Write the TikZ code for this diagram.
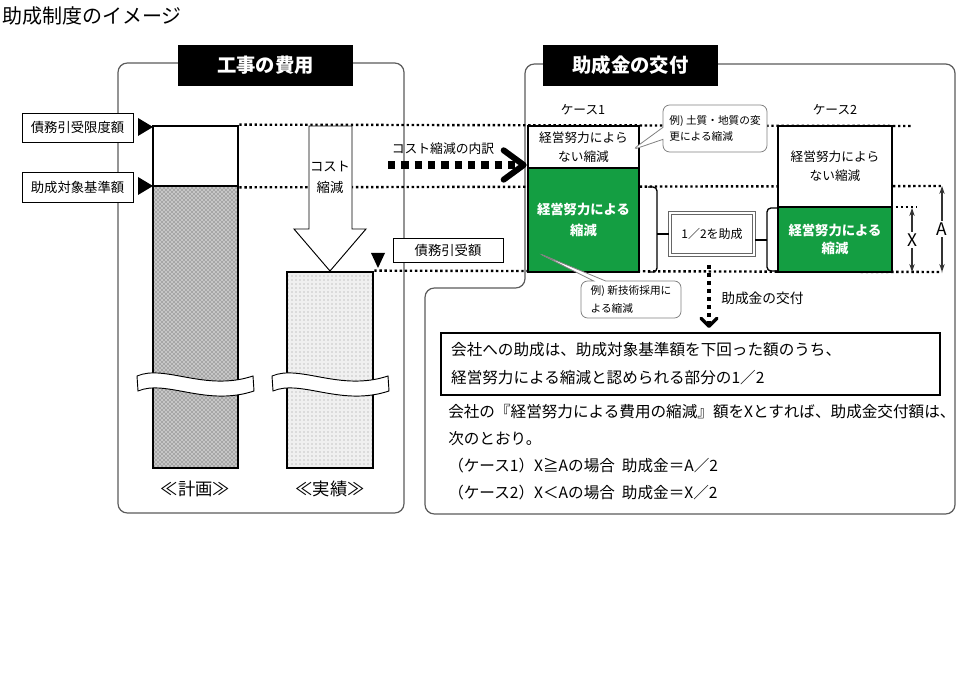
\documentclass[tikz,border=0pt]{standalone}
\usepackage{fontspec}
\newfontfamily\jp{Noto Sans CJK JP}
\usepackage{xcolor}
\usetikzlibrary{arrows.meta,patterns,shapes.callouts,positioning}
\definecolor{effgreen}{RGB}{20,158,66}
\definecolor{framegray}{RGB}{90,90,90}

\begin{document}
\begin{tikzpicture}[x=0.75pt, y=-0.75pt,
        every node/.style={font=\jp, inner sep=0pt},
        lbl/.style={draw, fill=white, line width=0.6pt, font=\jp\fontsize{10}{11}\selectfont},
        header/.style={fill=black, text=white, minimum width=131pt, minimum height=31pt,
                font=\jp\bfseries\fontsize{14.5}{16}\selectfont},
        panel/.style={draw=framegray, line width=0.9pt, rounded corners=7pt},
        bar/.style={draw, line width=2pt},
        wbox/.style={draw, fill=white, line width=2pt, align=center,
                font=\jp\fontsize{9.5}{14}\selectfont},
        gbox/.style={draw, fill=effgreen, text=white, line width=2pt, align=center,
                font=\jp\bfseries\fontsize{10}{16}\selectfont},
        dotline/.style={line width=1.8pt, dash pattern=on 1.8pt off 2pt},
        note/.style={rectangle callout, draw=gray, fill=white, rounded corners=5pt,
                line width=0.6pt, align=left, callout pointer width=9pt},
        brace/.style={line width=1pt, rounded corners=3pt},
        dimarrow/.style={{Stealth[length=6pt,width=4pt]}-{Stealth[length=6pt,width=4pt]},
                line width=0.8pt, draw=black!80},
        bigdots/.style={line width=5.5pt, dash pattern=on 5.5pt off 4.5pt,
                -{Straight Barb[length=15pt,width=22pt,line width=4.5pt,round]}},
        paydots/.style={line width=3pt, dash pattern=on 3pt off 3pt,
                -{Straight Barb[length=6pt,width=12pt,line width=2.5pt,round]}}
        ]
        \useasboundingbox (0,0) rectangle (960,680);

        % ---------------- Title ----------------
        \node[anchor=west, font=\jp\fontsize{15}{17}\selectfont] (title) at (2,16) {助成制度のイメージ};

        % ---------------- Panels ----------------
        \draw[panel] (118,63) rectangle (404,513);
        \draw[panel] (740,64) -- (955,64) -- (955,514) -- (425,514) -- (425,288)
                -- (525,288) -- (525,64) -- cycle;
        \node[header] (costhead) at (265.5,65.5) {工事の費用};
        \node[header] (granthead) at (630.5,65.5) {助成金の交付};

        % ---------------- Bars (left) ----------------
        \node[bar, fill=white, minimum width=63.75pt, minimum height=45pt] (plantop) at (195.5,156) {};
        \node[bar, preaction={fill=gray!45}, pattern=crosshatch dots, pattern color=black!75,
                minimum width=63.75pt, minimum height=211.5pt] (planlow) at (195.5,327) {};
        \node[bar, preaction={fill=gray!12}, pattern=dots, pattern color=gray!80,
                minimum width=64.5pt, minimum height=147pt] (actual) at (330,370) {};

        % wavy breaks
        \foreach \cx in {195,330}{
                \draw[fill=white, line width=0.7pt] (\cx-58,376) .. controls (\cx-30,364) and (\cx+10,392) .. (\cx+58,376)
                        -- (\cx+59,391) .. controls (\cx+11,407) and (\cx-29,379) .. (\cx-57,391) -- cycle;
        }

        \node[font=\jp\fontsize{13}{15}\selectfont] (planname) at (195.5,489) {≪計画≫};
        \node[font=\jp\fontsize{13}{15}\selectfont] (actname) at (330,489) {≪実績≫};

        % ---------------- Left labels ----------------
        \node[lbl, minimum width=83.25pt, minimum height=21.75pt] (limit) at (77.5,127.5) {債務引受限度額};
        \node[lbl, minimum width=83.25pt, minimum height=22.5pt] (base) at (77.5,187) {助成対象基準額};
        \fill (138,118) -- (153,127) -- (138,136) -- cycle;
        \fill (138,177) -- (153,186) -- (138,195) -- cycle;

        % ---------------- Case boxes ----------------
        \coordinate (topend) at (912,126);
        \coordinate (aend) at (942,186);
        \coordinate (bend) at (942,272);
        \coordinate (xend) at (917,207);
        \coordinate (xtop) at (912,208);
        \coordinate (xbot) at (912,272);

        \draw[dotline] (plantop.north east) -- (topend);
        \draw[dotline] (plantop.south east) -- (aend);
        \draw[dotline] (actual.north east) -- (bend);
        \draw[dotline] (835,207) -- (xend);

        % cost reduction arrow
        \draw[fill=white, line width=0.7pt] (309,126) -- (352,126) -- (352,229) -- (366,229)
                -- (330,271) -- (294,229) -- (309,229) -- cycle;
        \node[align=center, font=\jp\fontsize{10}{15.75}\selectfont] (cutlbl) at (330,177) {コスト\\縮減};

        \node[lbl, minimum width=82.5pt, minimum height=18pt] (paid) at (448,250) {債務引受額};
        \fill (371,253) -- (385,253) -- (378,268) -- cycle;

        \node[font=\jp\fontsize{9.5}{11}\selectfont] (case1) at (583,110) {ケース1};
        \node[font=\jp\fontsize{9.5}{11}\selectfont] (case2) at (835,110) {ケース2};

        \node[wbox, minimum width=83.25pt, minimum height=31.5pt] (c1top) at (583.5,147) {経営努力によら\\ない縮減};
        \node[gbox, minimum width=83.25pt, minimum height=78pt] (c1green) at (583.5,220) {経営努力による\\縮減};
        \node[wbox, minimum width=85.5pt, minimum height=60.75pt] (c2top) at (835,166.5) {経営努力によら\\ない縮減};
        \node[gbox, font=\jp\bfseries\fontsize{10}{14}\selectfont,
                minimum width=85.5pt, minimum height=48.75pt] (c2green) at (835,239.5) {経営努力による\\縮減};

        % callouts
        \node[note, minimum width=78pt, minimum height=35.25pt, font=\jp\fontsize{8}{12}\selectfont,
                callout absolute pointer={(632,150)}] (soilnote) at (715,128.5) {例) 土質・地質の変\\更による縮減};
        \node[note, minimum width=75pt, minimum height=27.75pt, font=\jp\fontsize{8}{13.5}\selectfont,
                callout absolute pointer={(538,253)}] (technote) at (631,299.5) {例) 新技術採用に\\よる縮減};

        % breakdown arrow
        \coordinate (splitsrc) at (388,165);
        \node[font=\jp\fontsize{9.6}{11}\selectfont] (splitlbl) at (443,149) {コスト縮減の内訳};
        \draw[bigdots] (splitsrc) -- (c1top.west |- splitsrc);

        % half grant
        \node[draw=gray!80!black, double=white, double distance=1.2pt, line width=0.8pt, fill=white,
                minimum width=63pt, minimum height=31.5pt, font=\jp\fontsize{9}{10}\selectfont] (half) at (712,234) {1／2を助成};
        \coordinate (b1mid) at (657,234);
        \coordinate (b2mid) at (767,240);
        \draw[brace] (648,187) -- (657,187) -- (657,272) -- (648,272);
        \draw[brace] (777,208) -- (767,208) -- (767,271) -- (777,271);
        \draw[line width=1pt] (b1mid) -- (half.west);
        \draw[line width=1pt] (b2mid) -- (half.east |- b2mid);

        % A and X
        \draw[dimarrow] (aend) -- (bend) node[midway, fill=white, inner sep=1.5pt, font=\jp\fontsize{13}{15}\selectfont] (alabel) {A};
        \draw[dimarrow] (xtop) -- (xbot) node[midway, fill=white, inner sep=1.5pt, font=\jp\fontsize{13}{15}\selectfont] (xlabel) {X};

        % grant payment
        \coordinate (paytop) at (709,265);
        \coordinate (paytip) at (709,328);
        \draw[paydots] (paytop) -- (paytip);
        \node[anchor=west, font=\jp\fontsize{10.3}{12}\selectfont] (paylbl) at (721,298) {助成金の交付};

        % ---------------- Statement ----------------
        \node[draw, line width=1.5pt, minimum width=374pt, minimum height=46.5pt, text width=359pt,
                align=left, font=\jp\fontsize{11.7}{21}\selectfont] (stmt) at (690.5,364)
                {会社への助成は、助成対象基準額を下回った額のうち、\\経営努力による縮減と認められる部分の1／2};
        \node[anchor=north west, align=left, font=\jp\fontsize{11.7}{20.2}\selectfont] (rule) at (448,404)
                {会社の『経営努力による費用の縮減』額をXとすれば、助成金交付額は、\\
                 次のとおり。\\
                 （ケース1）X≧Aの場合\ \ 助成金＝A／2\\
                 （ケース2）X＜Aの場合\ \ 助成金＝X／2};
\end{tikzpicture}
\end{document}
